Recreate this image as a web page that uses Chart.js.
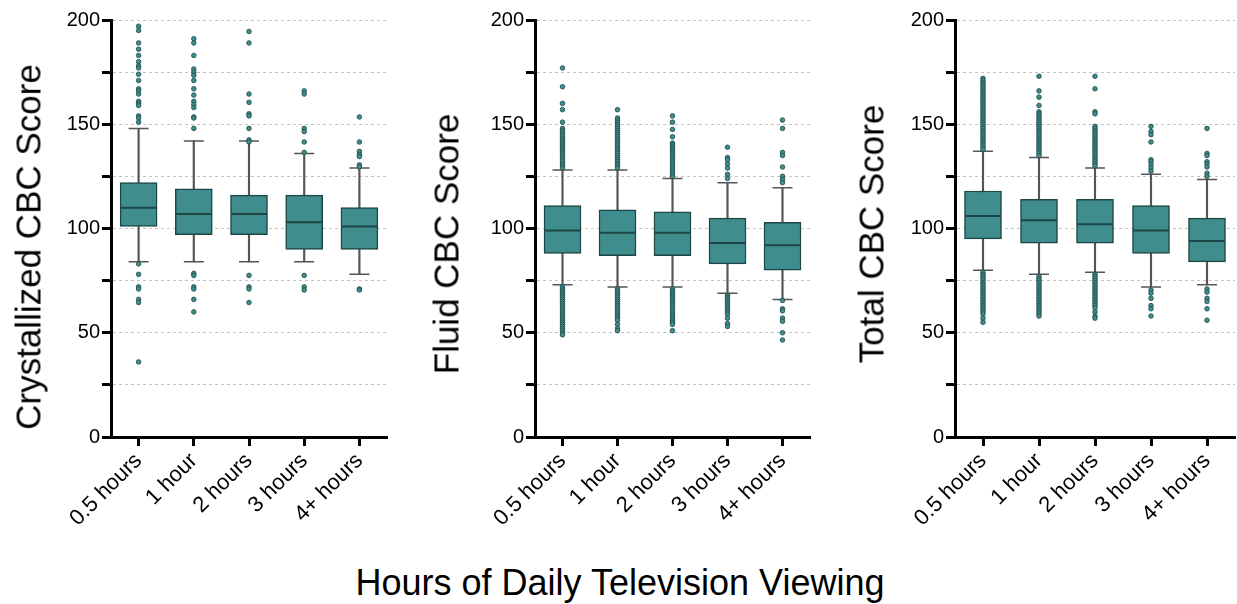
<!DOCTYPE html>
<html>
<head>
<meta charset="utf-8">
<script src="https://cdn.jsdelivr.net/npm/chart.js@4.4.0/dist/chart.umd.min.js"></script>
<style>
  body {
    margin: 0;
    background: #fff;
    width: 1237px;
    height: 604px;
    overflow: hidden;
    position: relative;
    font-family: "Liberation Sans", Arial, Helvetica, sans-serif;
    color: #000;
  }
  .panel { position: absolute; top: 0; height: 540px; }
  .ytitle {
    position: absolute;
    font-size: 35px;
    line-height: 1;
    white-space: nowrap;
    transform: translate(-50%, -50%) rotate(-90deg);
  }
  .xtitle {
    position: absolute;
    left: 620px;
    top: 565px;
    font-size: 36px;
    line-height: 1;
    white-space: nowrap;
    transform: translateX(-50%);
  }
</style>
</head>
<body>
<div class="panel" style="left:0px;width:390px"><canvas id="cryst"></canvas></div>
<div class="panel" style="left:424px;width:389px"><canvas id="fluid"></canvas></div>
<div class="panel" style="left:844px;width:393px"><canvas id="total"></canvas></div>

<div class="ytitle" style="left:28px;top:247px">Crystallized CBC Score</div>
<div class="ytitle" style="left:446px;top:244px">Fluid CBC Score</div>
<div class="ytitle" style="left:871px;top:234px">Total CBC Score</div>
<div class="xtitle">Hours of Daily Television Viewing</div>

<script>
const hours = ["0.5 hours", "1 hour", "2 hours", "3 hours", "4+ hours"];
const yTicks = [0, 50, 100, 150, 200];

// crystallized
const crystLow = [84, 84, 84, 84, 78];
const crystQ1 = [101, 97, 97, 90, 90];
const crystMedian = [110, 107, 107, 103, 101];
const crystQ3 = [122, 119, 116, 116, 110];
const crystHigh = [148, 142, 142, 136, 129];
const crystOutliers = [
  [197, 195, 189, 186, 183, 180, 178, 177, 174, 171, 167, 166, 164.5, 161, 160, 159, 154, 153, 151, 83, 78, 72, 71, 66, 64.5, 36],
  [191, 189, 183, 176.5, 175, 173.5, 171, 167, 164, 161, 159.5, 158, 153.5, 153, 148, 78.5, 77.5, 72, 71, 66, 60],
  [194.5, 189, 164.5, 160.5, 155, 154, 148, 142.5, 141.5, 77.5, 72, 71, 64.5],
  [166, 164.5, 148, 146.5, 141.5, 136.5, 77.5, 72, 70.5],
  [153.5, 141.5, 137, 135.5, 134.5, 130.5, 129.5, 71, 70.5],
];

// fluid
const fluidLow = [73, 72, 72, 69, 66];
const fluidQ1 = [88, 87, 87, 83, 80];
const fluidMedian = [99, 98, 98, 93, 92];
const fluidQ3 = [111, 109, 108, 105, 103];
const fluidHigh = [128, 128, 124, 122, 119.5];
const fluidOutliers = [
  [177, 168, 160, 157, 151, 148, 147, 146, 145, 144, 143, 142, 141, 140, 139, 138, 137, 136, 135, 134, 133, 132, 131, 130, 129,
   72, 71, 70, 69, 68, 67, 66, 65, 64, 63, 62, 61, 60, 59, 58, 57, 56, 55, 54, 53, 52, 51, 50, 49],
  [157, 153, 152, 151, 150, 149, 148, 147, 146, 145, 144, 143, 142, 141, 140, 139, 138, 137, 136, 135, 134, 133, 132, 131, 130, 129,
   71, 70, 69, 68, 67, 66, 65, 64, 63, 62, 61, 60, 59, 58, 57, 56, 54, 52, 51],
  [154, 151, 147.5, 144, 141, 140, 139, 138, 137, 136, 135, 134, 133, 132, 131, 130, 129, 128, 127, 126, 125,
   71, 70, 69, 68, 67, 66, 65, 64, 63, 62, 61, 60, 59, 58, 57, 56, 55, 54, 51],
  [139, 134, 133, 131, 129, 126, 124, 68, 67, 66, 65, 64, 63, 62, 61, 60, 59, 57, 54.5, 53],
  [152, 148, 136.5, 135, 129.5, 125, 123.5, 122, 65.5, 61.5, 60.5, 57, 55.5, 50, 46.5],
];

// total
const totalLow = [80, 78, 79, 72, 73];
const totalQ1 = [95, 93, 93, 88, 84];
const totalMedian = [106, 104, 102, 99, 94];
const totalQ3 = [118, 114, 114, 111, 105];
const totalHigh = [137, 134, 129, 126, 123.5];
const totalOutliers = [
  [172, 171, 170, 169, 168, 167, 166, 165, 164, 163, 162, 161, 160, 159, 158, 157, 156, 155, 154, 153, 152, 151, 150,
   149, 148, 147, 146, 145, 144, 143, 142, 141, 140, 139, 138,
   79, 78, 77, 76, 75, 74, 73, 72, 71, 70, 69, 68, 67, 66, 65, 64, 63, 62, 61, 60, 59, 57, 55],
  [173, 166, 163, 159, 156, 155, 154, 153, 152, 151, 150, 149, 148, 147, 146, 145, 144, 143, 142, 141, 140, 139, 138, 137, 136, 135,
   77, 76, 75, 74, 73, 72, 71, 70, 69, 68, 67, 66, 65, 64, 63, 62, 61, 60, 59, 58],
  [173, 167, 156, 155, 149, 148, 147, 146, 145, 144, 143, 142, 141, 140, 139, 138, 137, 136, 135, 134, 133, 132, 131, 130,
   78, 77, 76, 75, 74, 73, 72, 71, 70, 69, 68, 67, 66, 65, 64, 63, 62, 60, 58, 57],
  [149, 146.5, 145, 141.5, 133, 132, 130.5, 129, 127.5, 70.5, 69, 66.5, 63, 61.5, 58],
  [148, 136, 135, 132, 131, 129.5, 126.5, 125, 71, 69.5, 66.5, 65, 61.5, 56],
];

const teal = "#3f8d8d";
const dark = "#1d4747";
const whisker = "#555555";

Chart.defaults.font.family = '"Liberation Sans", Arial, Helvetica, sans-serif';
Chart.defaults.color = "#000";

const makePanel = (id, low, q1, median, q3, high, outliers, padRight) => {
  const caps = hours.flatMap((h, i) => [{ x: h, y: low[i] }, { x: h, y: high[i] }]);
  const dots = outliers.flatMap((vals, i) => vals.map((v) => ({ x: hours[i], y: v })));

  return new Chart(document.getElementById(id), {
    type: "bar",
    data: {
      labels: hours,
      datasets: [
        {
          // whisker stems
          data: hours.map((h, i) => [low[i], high[i]]),
          backgroundColor: whisker,
          borderWidth: 0,
          barThickness: 1.5,
          grouped: false,
          order: 5,
        },
        {
          // boxes
          data: hours.map((h, i) => [q1[i], q3[i]]),
          backgroundColor: teal,
          borderColor: dark,
          borderWidth: 1.5,
          borderSkipped: false,
          barThickness: 37,
          grouped: false,
          order: 4,
        },
        {
          type: "line",
          data: caps,
          showLine: false,
          pointStyle: "line",
          pointRadius: 10,
          pointBorderWidth: 1.5,
          pointBorderColor: whisker,
          order: 3,
        },
        {
          type: "line",
          data: hours.map((h, i) => ({ x: h, y: median[i] })),
          showLine: false,
          pointStyle: "line",
          pointRadius: 18,
          pointBorderWidth: 2,
          pointBorderColor: dark,
          order: 2,
        },
        {
          type: "line",
          data: dots,
          showLine: false,
          pointRadius: 2.3,
          pointBackgroundColor: teal,
          pointBorderColor: dark,
          pointBorderWidth: 0.8,
          order: 1,
        },
      ],
    },
    options: {
      responsive: true,
      maintainAspectRatio: false,
      animation: false,
      events: [],
      layout: { autoPadding: false, padding: { top: 20, right: padRight, bottom: 0, left: 0 } },
      plugins: { legend: { display: false }, tooltip: { enabled: false } },
      scales: {
        x: {
          offset: true,
          afterFit: (scale) => {
            scale.height = 103;
            scale.paddingRight = 0;
          },
          grid: {
            offset: false,
            drawOnChartArea: false,
            tickLength: 9,
            tickWidth: 3,
            tickColor: "#000",
          },
          border: { color: "#000", width: 3 },
          ticks: {
            autoSkip: false,
            maxRotation: 45,
            minRotation: 45,
            padding: 2,
            font: { size: 22 },
            color: "#000",
          },
        },
        y: {
          min: 0,
          max: 200,
          afterFit: (scale) => { scale.width = 111; },
          grid: {
            color: "#c4c4c4",
            lineWidth: 1,
            tickLength: 9,
            tickWidth: 3,
            tickColor: "#000",
          },
          border: { color: "#000", width: 3, dash: [3, 3] },
          ticks: {
            stepSize: 25,
            padding: 2,
            font: { size: 20 },
            color: "#000",
            callback: (v) => (yTicks.includes(v) ? v : ""),
          },
        },
      },
    },
  });
};

makePanel("cryst", crystLow, crystQ1, crystMedian, crystQ3, crystHigh, crystOutliers, 3);
makePanel("fluid", fluidLow, fluidQ1, fluidMedian, fluidQ3, fluidHigh, fluidOutliers, 3);
makePanel("total", totalLow, totalQ1, totalMedian, totalQ3, totalHigh, totalOutliers, 2);
</script>
</body>
</html>
